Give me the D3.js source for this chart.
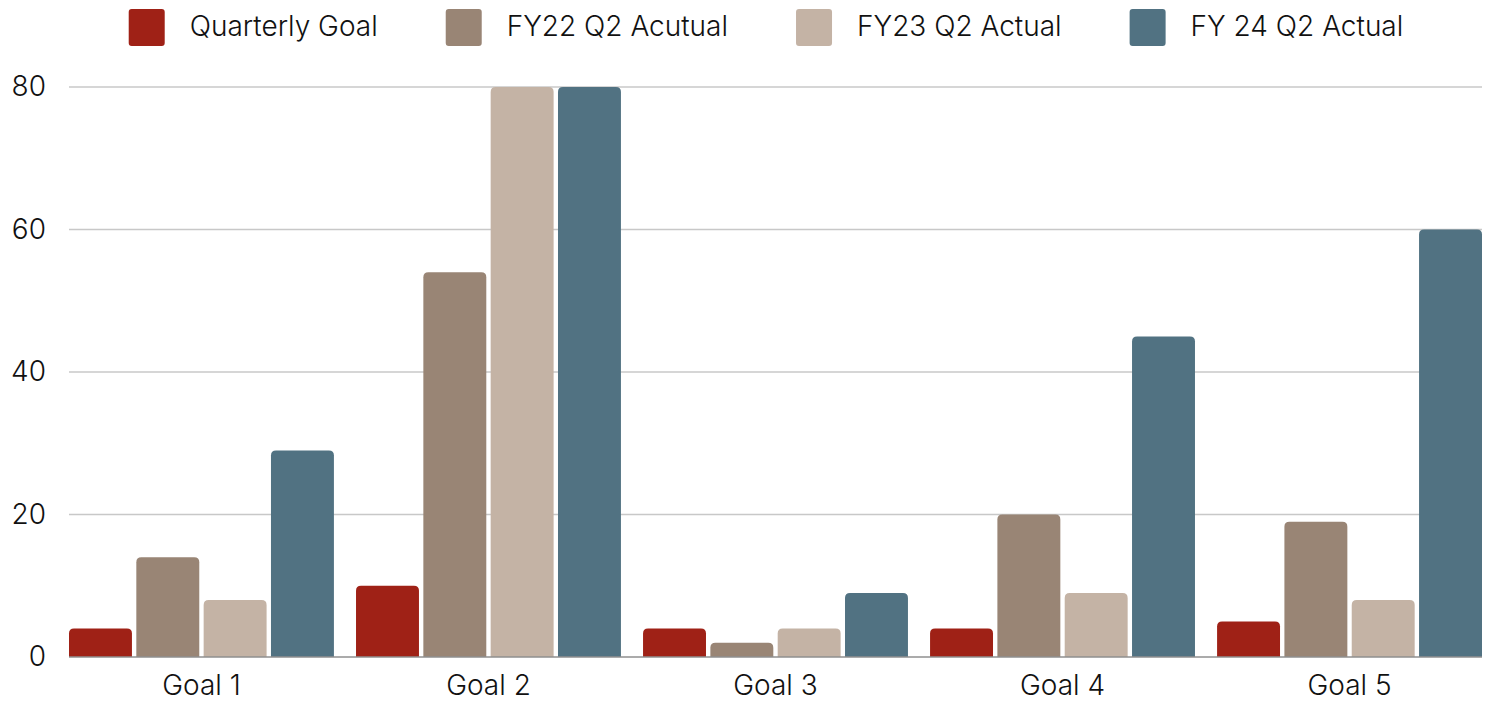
<!DOCTYPE html>
<html>
<head>
<meta charset="utf-8">
<script src="https://cdn.jsdelivr.net/npm/d3@7"></script>
<style>
  html, body { margin: 0; padding: 0; background: #fff; }
  svg { display: block; font-family: Inter, "Noto Sans", sans-serif; }
  svg text { font-weight: 350; }
</style>
</head>
<body>
<svg id="chart" width="1491" height="702"></svg>
<script>
const goals = ["Goal 1", "Goal 2", "Goal 3", "Goal 4", "Goal 5"];
const seriesNames = ["Quarterly Goal", "FY22 Q2 Acutual", "FY23 Q2 Actual", "FY 24 Q2 Actual"];
const quarterlyGoal = [4, 10, 4, 4, 5];
const fy22Actual = [14, 54, 2, 20, 19];
const fy23Actual = [8, 80, 4, 9, 8];
const fy24Actual = [29, 80, 9, 45, 60];
const yTicks = [0, 20, 40, 60, 80];
const colors = ["#9f2116", "#998575", "#c4b3a5", "#517282"];

const seriesValues = [quarterlyGoal, fy22Actual, fy23Actual, fy24Actual];

const FONT = "Inter, 'Noto Sans', sans-serif";
const FONT_SIZE = 28;
const TEXT_COLOR = "#111";

const svg = d3.select("#chart");
const margin = { top: 87, right: 9, bottom: 45, left: 69 };
const W = 1491, H = 702;
const innerW = W - margin.left - margin.right;
const innerH = H - margin.top - margin.bottom;

const x0 = d3.scaleBand().domain(goals).range([0, innerW]).paddingInner(0.077).paddingOuter(0);
const x1 = d3.scaleBand().domain(seriesNames).range([0, x0.bandwidth()]).paddingInner(0.065).paddingOuter(0);
const y = d3.scaleLinear().domain([0, 80]).range([innerH, 0]);

const g = svg.append("g").attr("transform", `translate(${margin.left},${margin.top})`);

// horizontal gridlines
g.append("g")
  .selectAll("line")
  .data(yTicks.filter(t => t > 0))
  .join("line")
  .attr("x1", 0).attr("x2", innerW)
  .attr("y1", d => y(d)).attr("y2", d => y(d))
  .attr("stroke", "#c8c8c8").attr("stroke-width", 1.5);

// y axis labels
const yAxis = g.append("g")
  .call(d3.axisLeft(y).tickValues(yTicks).tickSize(0).tickPadding(23));
yAxis.select(".domain").remove();
yAxis.selectAll("text")
  .attr("font-size", FONT_SIZE).attr("fill", TEXT_COLOR).attr("font-family", FONT);

// rounded-top bar path
function topRounded(xp, yp, w, h, r) {
  r = Math.min(r, h, w / 2);
  return `M${xp},${yp + h}V${yp + r}Q${xp},${yp} ${xp + r},${yp}H${xp + w - r}Q${xp + w},${yp} ${xp + w},${yp + r}V${yp + h}Z`;
}

const groups = g.append("g").selectAll("g")
  .data(goals)
  .join("g")
  .attr("transform", d => `translate(${x0(d)},0)`);

groups.selectAll("path")
  .data((d, i) => seriesNames.map((s, k) => ({ s, v: seriesValues[k][i], c: colors[k] })))
  .join("path")
  .attr("d", d => topRounded(x1(d.s), y(d.v), x1.bandwidth(), innerH - y(d.v), 5))
  .attr("fill", d => d.c);

// baseline
g.append("line")
  .attr("x1", 0).attr("x2", innerW)
  .attr("y1", innerH).attr("y2", innerH)
  .attr("stroke", "#8f8f8f").attr("stroke-width", 1.5);

// x axis labels
const xAxis = g.append("g")
  .attr("transform", `translate(0,${innerH})`)
  .call(d3.axisBottom(x0).tickSize(0).tickPadding(18));
xAxis.select(".domain").remove();
xAxis.selectAll("text")
  .attr("font-size", FONT_SIZE).attr("fill", TEXT_COLOR).attr("font-family", FONT);

// legend
const legend = svg.append("g");
const items = legend.selectAll("g").data(seriesNames).join("g");
items.append("rect")
  .attr("width", 36).attr("height", 37).attr("rx", 3).attr("y", 9)
  .attr("fill", (d, i) => colors[i]);
items.append("text")
  .attr("x", 61).attr("y", 36)
  .attr("font-size", FONT_SIZE).attr("fill", TEXT_COLOR)
  .text(d => d);
let cursor = 0;
const positions = [];
items.each(function () {
  const tw = d3.select(this).select("text").node().getComputedTextLength();
  positions.push(cursor);
  cursor += 61 + tw + 68;
});
const totalW = cursor - 68;
const startX = 766 - totalW / 2;
items.attr("transform", (d, i) => `translate(${startX + positions[i]},0)`);
</script>
</body>
</html>
